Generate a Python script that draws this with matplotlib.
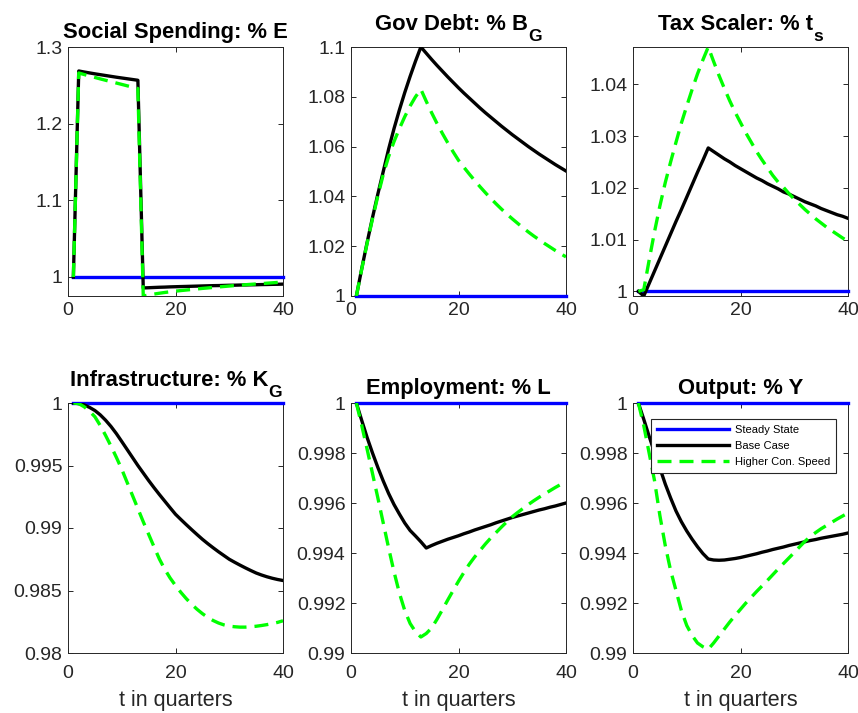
import matplotlib
matplotlib.use('Agg')
import matplotlib.pyplot as plt
from matplotlib.ticker import FuncFormatter

plt.rcParams['font.family'] = ['Liberation Sans', 'DejaVu Sans']

# quarters after the shock
quarters = list(range(1, 41))
steady = [1.0] * 40

# Social spending E
spend_base = [1.0000, 1.2687, 1.2674, 1.2662, 1.2650, 1.2639, 1.2628, 1.2617, 1.2606, 1.2596,
              1.2586, 1.2576, 1.2566, 0.9857, 0.9860, 0.9863, 0.9866, 0.9868, 0.9871, 0.9873,
              0.9875, 0.9877, 0.9879, 0.9881, 0.9883, 0.9885, 0.9887, 0.9888, 0.9890, 0.9892,
              0.9893, 0.9895, 0.9896, 0.9898, 0.9899, 0.9901, 0.9902, 0.9904, 0.9905, 0.9907]
spend_fast = [1.0000, 1.2661, 1.2641, 1.2622, 1.2603, 1.2584, 1.2566, 1.2548, 1.2530, 1.2512,
              1.2494, 1.2476, 1.2458, 0.9752, 0.9765, 0.9777, 0.9788, 0.9798, 0.9807, 0.9815,
              0.9823, 0.9830, 0.9837, 0.9844, 0.9851, 0.9857, 0.9864, 0.9870, 0.9876, 0.9882,
              0.9888, 0.9893, 0.9899, 0.9904, 0.9909, 0.9914, 0.9919, 0.9924, 0.9929, 0.9934]

# Government debt B_G
debt_base = [1.0000, 1.0110, 1.0215, 1.0315, 1.0410, 1.0500, 1.0590, 1.0672, 1.0747, 1.0817,
             1.0882, 1.0943, 1.1000, 1.0975, 1.0950, 1.0926, 1.0903, 1.0880, 1.0858, 1.0836,
             1.0815, 1.0795, 1.0775, 1.0755, 1.0736, 1.0718, 1.0700, 1.0682, 1.0665, 1.0648,
             1.0632, 1.0616, 1.0600, 1.0585, 1.0570, 1.0556, 1.0542, 1.0528, 1.0515, 1.0502]
debt_fast = [1.0000, 1.0108, 1.0212, 1.0310, 1.0402, 1.0488, 1.0560, 1.0620, 1.0672, 1.0720,
             1.0763, 1.0800, 1.0830, 1.0782, 1.0736, 1.0693, 1.0653, 1.0615, 1.0579, 1.0545,
             1.0517, 1.0490, 1.0464, 1.0439, 1.0415, 1.0392, 1.0370, 1.0349, 1.0329, 1.0310,
             1.0292, 1.0274, 1.0257, 1.0241, 1.0226, 1.0211, 1.0197, 1.0183, 1.0170, 1.0157]

# Tax scaler t_s
tax_base = [1.0000, 0.9991, 1.0015, 1.0039, 1.0063, 1.0087, 1.0111, 1.0135, 1.0158, 1.0182,
            1.0206, 1.0230, 1.0253, 1.0277, 1.0270, 1.0263, 1.0256, 1.0250, 1.0243, 1.0237,
            1.0231, 1.0225, 1.0219, 1.0214, 1.0208, 1.0203, 1.0198, 1.0192, 1.0188, 1.0183,
            1.0178, 1.0173, 1.0169, 1.0165, 1.0160, 1.0156, 1.0152, 1.0148, 1.0145, 1.0141]
tax_fast = [1.0000, 1.0003, 1.0060, 1.0115, 1.0165, 1.0210, 1.0250, 1.0288, 1.0325, 1.0358,
            1.0390, 1.0420, 1.0447, 1.0472, 1.0444, 1.0417, 1.0392, 1.0368, 1.0346, 1.0326,
            1.0306, 1.0288, 1.0270, 1.0254, 1.0239, 1.0224, 1.0211, 1.0201, 1.0189, 1.0178,
            1.0168, 1.0158, 1.0149, 1.0140, 1.0132, 1.0124, 1.0117, 1.0110, 1.0103, 1.0097]

# Infrastructure K_G
infra_base = [1.00000, 0.99995, 0.99985, 0.99965, 0.99940, 0.99905, 0.99862, 0.99812, 0.99755, 0.99692,
              0.99628, 0.99564, 0.99500, 0.99440, 0.99380, 0.99323, 0.99268, 0.99215, 0.99162, 0.99110,
              0.99068, 0.99027, 0.98987, 0.98948, 0.98910, 0.98875, 0.98842, 0.98810, 0.98780, 0.98750,
              0.98726, 0.98703, 0.98681, 0.98660, 0.98640, 0.98624, 0.98610, 0.98598, 0.98588, 0.98580]
infra_fast = [1.00000, 0.99995, 0.99970, 0.99935, 0.99890, 0.99820, 0.99740, 0.99655, 0.99565, 0.99470,
              0.99365, 0.99260, 0.99155, 0.99050, 0.98950, 0.98850, 0.98752, 0.98670, 0.98600, 0.98540,
              0.98485, 0.98435, 0.98390, 0.98350, 0.98315, 0.98285, 0.98260, 0.98240, 0.98225, 0.98215,
              0.98210, 0.98207, 0.98207, 0.98210, 0.98214, 0.98220, 0.98227, 0.98235, 0.98245, 0.98258]

# Employment L
emp_base = [1.00000, 0.99930, 0.99862, 0.99800, 0.99742, 0.99688, 0.99638, 0.99594, 0.99556, 0.99520,
            0.99490, 0.99468, 0.99445, 0.99420, 0.99430, 0.99439, 0.99447, 0.99455, 0.99462, 0.99469,
            0.99477, 0.99484, 0.99492, 0.99499, 0.99506, 0.99513, 0.99521, 0.99528, 0.99535, 0.99542,
            0.99548, 0.99554, 0.99560, 0.99566, 0.99572, 0.99577, 0.99583, 0.99588, 0.99594, 0.99600]
emp_fast = [1.00000, 0.99910, 0.99815, 0.99718, 0.99620, 0.99520, 0.99420, 0.99325, 0.99240, 0.99170,
            0.99118, 0.99085, 0.99064, 0.99078, 0.99100, 0.99135, 0.99173, 0.99212, 0.99250, 0.99287,
            0.99322, 0.99355, 0.99384, 0.99410, 0.99436, 0.99460, 0.99482, 0.99504, 0.99525, 0.99545,
            0.99562, 0.99578, 0.99594, 0.99609, 0.99623, 0.99636, 0.99649, 0.99662, 0.99674, 0.99685]

# Output Y
out_base = [1.00000, 0.99935, 0.99867, 0.99802, 0.99740, 0.99676, 0.99620, 0.99568, 0.99525, 0.99488,
            0.99455, 0.99425, 0.99398, 0.99376, 0.99372, 0.99371, 0.99372, 0.99375, 0.99378, 0.99382,
            0.99387, 0.99392, 0.99397, 0.99403, 0.99408, 0.99414, 0.99419, 0.99424, 0.99430, 0.99435,
            0.99440, 0.99445, 0.99450, 0.99454, 0.99459, 0.99463, 0.99467, 0.99471, 0.99475, 0.99480]
out_fast = [1.00000, 0.99910, 0.99800, 0.99690, 0.99550, 0.99430, 0.99330, 0.99250, 0.99170, 0.99110,
            0.99070, 0.99040, 0.99025, 0.99015, 0.99040, 0.99068, 0.99096, 0.99124, 0.99150, 0.99175,
            0.99200, 0.99223, 0.99246, 0.99268, 0.99290, 0.99313, 0.99336, 0.99358, 0.99380, 0.99402,
            0.99425, 0.99447, 0.99466, 0.99482, 0.99497, 0.99510, 0.99523, 0.99536, 0.99548, 0.99560]

# title text and its subscript (empty when there is none)
titles = [('Social Spending: % E', ''), ('Gov Debt: % B', 'G'), ('Tax Scaler: % t', 's'),
          ('Infrastructure: % K', 'G'), ('Employment: % L', ''), ('Output: % Y', '')]
series = [(spend_base, spend_fast), (debt_base, debt_fast), (tax_base, tax_fast),
          (infra_base, infra_fast), (emp_base, emp_fast), (out_base, out_fast)]
ylims = [(0.9752, 1.3), (1.0, 1.1), (0.9991, 1.0472), (0.98, 1.0), (0.99, 1.0), (0.99, 1.0)]
yticks = [[1, 1.1, 1.2, 1.3],
          [1, 1.02, 1.04, 1.06, 1.08, 1.1],
          [1, 1.01, 1.02, 1.03, 1.04],
          [0.98, 0.985, 0.99, 0.995, 1],
          [0.99, 0.992, 0.994, 0.996, 0.998, 1],
          [0.99, 0.992, 0.994, 0.996, 0.998, 1]]
labels = ['Steady State', 'Base Case', 'Higher Con. Speed']

W, H = 858, 713
fig = plt.figure(figsize=(W / 100, H / 100), dpi=100)
fig.patch.set_facecolor('white')

lefts = [68, 351, 633]
rows = [(47, 296), (403, 653)]
ax_w = 215
dark = '#262626'
lw = 2.4
dash = (0, (4.2, 2.4))
sub_w = {'G': 0.778, 's': 0.556}  # glyph advance in em, bold

axes = []
for i in range(6):
    r, c = divmod(i, 3)
    top, bot = rows[r]
    ax = fig.add_axes([lefts[c] / W, 1 - bot / H, ax_w / W, (bot - top) / H])
    base, fast = series[i]
    ax.plot(quarters, steady, color='#0000ff', lw=lw, clip_on=False, zorder=2.6)
    ax.plot(quarters, base, color='black', lw=lw, zorder=2.7)
    ax.plot(quarters, fast, color='#00ff00', lw=lw, linestyle=dash, zorder=2.8)
    ax.set_xlim(0, 40)
    ax.set_ylim(*ylims[i])
    ax.set_xticks([0, 20, 40])
    ax.set_yticks(yticks[i])
    ax.yaxis.set_major_formatter(FuncFormatter(lambda v, p: f'{v:g}'))
    ax.tick_params(direction='in', length=3.5, width=0.7, top=True, right=True,
                   colors=dark, labelsize=14)
    ax.tick_params(axis='y', pad=4)
    ax.tick_params(axis='x', pad=4 if r == 0 else 8.5)
    for sp in ax.spines.values():
        sp.set_linewidth(0.7)
        sp.set_color(dark)

    main, sub = titles[i]
    sub_size = 12.5
    if sub:
        shift = sub_w[sub] * sub_size * 100 / 72 / 2 / ax_w
        t = ax.set_title(main, fontsize=15.8, fontweight='bold', pad=12.6, x=0.5 - shift)
        ax.annotate(sub, xy=(1, 0), xycoords=t, xytext=(0.3, -4.7),
                    textcoords='offset points', ha='left', va='baseline',
                    fontsize=sub_size, fontweight='bold')
    else:
        ax.set_title(main, fontsize=15.8, fontweight='bold', pad=6.5)
    if r == 1:
        ax.set_xlabel('t in quarters', fontsize=15.5, color=dark, labelpad=6)
    axes.append(ax)

leg = axes[5].legend(labels, loc='upper right',
                     bbox_to_anchor=(836 / W, 1 - 419 / H), bbox_transform=fig.transFigure,
                     fontsize=8, handlelength=6.5, handletextpad=0.5, labelspacing=0.53,
                     borderpad=0.55, borderaxespad=0, fancybox=False, framealpha=1)
leg.get_frame().set_edgecolor(dark)
leg.get_frame().set_linewidth(0.8)

fig.savefig('out.png', dpi=100, facecolor='white')
